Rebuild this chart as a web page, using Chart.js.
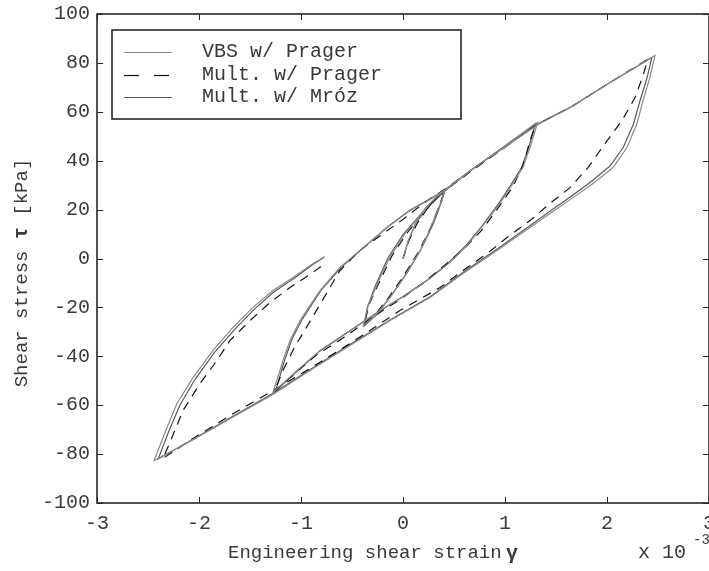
<!DOCTYPE html>
<html>
<head>
<meta charset="utf-8">
<script src="https://cdn.jsdelivr.net/npm/chart.js@4.4.0/dist/chart.umd.min.js"></script>
<style>
  html, body { margin: 0; padding: 0; background: #fff; }
  canvas { display: block; }
</style>
</head>
<body>
<canvas id="chart" width="709" height="571"></canvas>
<script>
// ─── DATOS ─────────────────────────────────────────────
// deformación en unidades de 1e-3, tensión en kPa
const xTicks = [-3, -2, -1, 0, 1, 2, 3];
const yTicks = [-100, -80, -60, -40, -20, 0, 20, 40, 60, 80, 100];
const seriesNames = ['VBS w/ Prager', 'Mult. w/ Prager', 'Mult. w/ Mróz'];

const vbsStrain = [
  0, 0.05, 0.12, 0.22, 0.32, 0.41,
  0.37, 0.28, 0.17, 0.02, -0.13, -0.27, -0.39,
  -0.34, -0.25, -0.13, 0.02, 0.17, 0.29, 0.39, 0.66, 0.95, 1.32,
  1.245, 1.176, 1.078, 0.951, 0.784, 0.627, 0.461, 0.265, 0.02, -0.225, -0.49, -0.814, -1.06, -1.275,
  -1.176, -1.108, -1.01, -0.814, -0.618, -0.422, -0.157, 0.069, 0.294, 0.49, 0.657, 0.951, 1.324, 1.637, 2.03, 2.47,
  2.42, 2.353, 2.294, 2.196, 2.059, 1.863, 1.667, 1.441, 1.245, 0.922, 0.588, 0.265, -0.127, -0.52, -0.912, -1.275, -1.696, -2.088, -2.44,
  -2.314, -2.216, -2.059, -1.863, -1.667, -1.471, -1.275, -1.078, -0.882, -0.765,
];
const vbsStress = [
  0, 7, 14, 20.5, 24.8, 27.8,
  22.9, 13.5, 3.3, -7, -16, -23.3, -27.4,
  -19.2, -10.2, 0.4, 10.2, 17.6, 23.7, 27.4, 35.8, 44.6, 55.6,
  45.4, 37.2, 30.7, 22.5, 13.5, 5.3, -1.6, -8.2, -15.1, -21.3, -28.6, -37.6, -46.6, -54.8,
  -41.7, -33.5, -25.4, -13.1, -3.7, 3.3, 12.7, 19.6, 24.9, 30.3, 36, 44.2, 54.8, 61.8, 72, 83,
  74, 64.6, 55.2, 45.4, 37.2, 30.7, 24.9, 18.4, 12.7, 3.3, -6.1, -16, -25.4, -35.6, -45.8, -55.6, -65.5, -74.8, -82.6,
  -69.1, -59.3, -48.7, -37.6, -28.2, -20, -13.1, -7.8, -2, 0.8,
];

const pragerStrain = [
  0, 0.06, 0.14, 0.24, 0.33, 0.4,
  0.36, 0.27, 0.15, 0, -0.15, -0.28, -0.38,
  -0.33, -0.23, -0.11, 0.04, 0.19, 0.3, 0.39, 0.66, 0.95, 1.3,
  1.24, 1.18, 1.08, 0.92, 0.77, 0.6, 0.4, 0.2, 0, -0.3, -0.55, -0.85, -1.06, -1.26,
  -1.18, -1.06, -0.93, -0.76, -0.62, -0.42, 0, 0.2, 0.45, 0.7, 0.95, 1.3, 1.64, 2.03, 2.4,
  2.353, 2.275, 2.147, 1.98, 1.814, 1.637, 1.441, 1.245, 1.02, 0.824, 0.588, 0.363, -0.03, -0.52, -0.912, -1.275, -1.696, -2.088, -2.353,
  -2.265, -2.157, -1.99, -1.824, -1.696, -1.5, -1.304, -1.108, -0.882, -0.794,
];
const pragerStress = [
  0, 7.5, 14.5, 20.5, 24.5, 27,
  22, 12.5, 2.5, -7.5, -16.5, -23.3, -27,
  -18.5, -9.5, 1, 10.5, 18, 23.5, 27, 35.5, 44, 54.8,
  47.5, 38.4, 29.5, 20, 11.5, 4, -3, -10, -16, -24, -31.5, -39.5, -47, -54.5,
  -46, -36, -27, -15, -5, 3.5, 16, 22.5, 29.5, 37, 44, 54.5, 61.8, 72, 81.5,
  74.8, 65.8, 56.4, 47, 37.2, 29, 22.5, 15.5, 8.6, 2, -4.9, -11.9, -21.3, -34.8, -45, -54, -64.2, -74.4, -81.8,
  -73.2, -62.2, -51.1, -41.7, -33.5, -25.4, -18, -11.9, -5.7, -2.9,
];

const mrozStrain = [
  0, 0.05, 0.12, 0.22, 0.32, 0.41,
  0.38, 0.3, 0.18, 0.03, -0.12, -0.26, -0.38,
  -0.35, -0.27, -0.15, 0, 0.16, 0.29, 0.41, 0.66, 0.95, 1.3,
  1.23, 1.16, 1.06, 0.93, 0.77, 0.61, 0.44, 0.25, 0, -0.24, -0.5, -0.82, -1.06, -1.25,
  -1.16, -1.09, -0.99, -0.8, -0.6, -0.41, -0.15, 0.07, 0.3, 0.49, 0.66, 0.95, 1.3, 1.64, 2.03, 2.44,
  2.39, 2.32, 2.26, 2.16, 2.03, 1.84, 1.65, 1.43, 1.24, 0.92, 0.59, 0.27, -0.12, -0.52, -0.91, -1.26, -1.69, -2.08, -2.4,
  -2.29, -2.19, -2.04, -1.85, -1.65, -1.46, -1.27, -1.07, -0.88, -0.78,
];
const mrozStress = [
  0, 7, 14, 20.5, 24.8, 27.6,
  23.5, 14.5, 4, -6.5, -15.5, -23, -27.6,
  -20, -11, 0, 9.8, 17.4, 23.5, 27.6, 36, 44.6, 55.2,
  45, 37, 30.2, 22, 13, 5, -2, -8.5, -15.5, -21.8, -29, -38, -47, -54.2,
  -41.5, -33, -25, -12.8, -3.4, 3.6, 13, 19.8, 25.2, 30.5, 36, 44.4, 54.6, 61.8, 72, 82.2,
  73.5, 64, 55, 45.5, 37.8, 31.3, 25.5, 19, 13.3, 3.8, -5.6, -15.5, -25, -35.2, -45.4, -54.8, -65, -74.4, -82,
  -70, -60.2, -49.5, -38.5, -29, -20.8, -13.8, -8.2, -2.4, 0.3,
];

// ─── ESTILO ────────────────────────────────────────────
const FONT      = "'Liberation Mono', 'DejaVu Sans Mono', monospace";
const TEXT      = '#3a3a3a';
const AXIS      = '#262626';
const TICK_LEN  = 6;

const toPoints = (xs, ys) => xs.map((v, i) => ({ x: v, y: ys[i] }));

const SERIES = [
  { label: seriesNames[0], data: toPoints(vbsStrain, vbsStress),       color: '#8a8a8a', dash: [],     legendDash: [] },
  { label: seriesNames[1], data: toPoints(pragerStrain, pragerStress), color: '#111111', dash: [9, 7], legendDash: [15, 15] },
  { label: seriesNames[2], data: toPoints(mrozStrain, mrozStress),     color: '#5a5a5a', dash: [],     legendDash: [] },
];

// Marco, ticks interiores, títulos y leyenda
const framePlugin = {
  id: 'frame',
  afterDatasetsDraw(chart) {
    const { ctx, chartArea: a, scales: { x, y } } = chart;
    ctx.save();

    ctx.strokeStyle = AXIS;
    ctx.lineWidth = 1;
    ctx.beginPath();
    xTicks.forEach(v => {
      const px = Math.round(x.getPixelForValue(v)) + 0.5;
      ctx.moveTo(px, a.bottom); ctx.lineTo(px, a.bottom - TICK_LEN);
      ctx.moveTo(px, a.top);    ctx.lineTo(px, a.top + TICK_LEN);
    });
    yTicks.forEach(v => {
      const py = Math.round(y.getPixelForValue(v)) + 0.5;
      ctx.moveTo(a.left, py);  ctx.lineTo(a.left + TICK_LEN, py);
      ctx.moveTo(a.right, py); ctx.lineTo(a.right - TICK_LEN, py);
    });
    ctx.stroke();

    ctx.lineWidth = 1.6;
    ctx.strokeRect(a.left, a.top, a.right - a.left, a.bottom - a.top);

    // leyenda
    const L = { x: 112, y: 30, w: 349, h: 89 };
    ctx.fillStyle = '#fff';
    ctx.fillRect(L.x, L.y, L.w, L.h);
    ctx.lineWidth = 1.6;
    ctx.strokeStyle = AXIS;
    ctx.strokeRect(L.x, L.y, L.w, L.h);
    const rows = [52, 75, 97];
    ctx.font = `20px ${FONT}`;
    ctx.textBaseline = 'middle';
    ctx.textAlign = 'left';
    SERIES.forEach((s, i) => {
      ctx.beginPath();
      ctx.strokeStyle = s.color;
      ctx.lineWidth = 1.2;
      ctx.setLineDash(s.legendDash);
      ctx.moveTo(124, rows[i] + 0.5);
      ctx.lineTo(172, rows[i] + 0.5);
      ctx.stroke();
      ctx.setLineDash([]);
      ctx.fillStyle = TEXT;
      ctx.fillText(s.label, 202, rows[i]);
    });

    // títulos de ejes
    ctx.fillStyle = TEXT;
    ctx.font = `19px ${FONT}`;
    ctx.textBaseline = 'middle';
    ctx.textAlign = 'left';
    ctx.fillText('Engineering shear strain', 228, 553);
    ctx.font = `bold 20px ${FONT}`;
    ctx.fillText('γ', 506, 554);
    ctx.font = `20px ${FONT}`;
    ctx.fillText('x 10', 638, 553);
    ctx.font = `14px ${FONT}`;
    ctx.fillText('-3', 693, 540);

    ctx.save();
    ctx.translate(22, 273);
    ctx.rotate(-Math.PI / 2);
    const parts = ['Shear stress ', 'τ', ' [kPa]'];
    const fonts = [`19px ${FONT}`, `bold 20px ${FONT}`, `19px ${FONT}`];
    let total = 0;
    const widths = parts.map((p, i) => { ctx.font = fonts[i]; const w = ctx.measureText(p).width; total += w; return w; });
    let cx = -total / 2;
    ctx.textAlign = 'left';
    parts.forEach((p, i) => {
      ctx.font = fonts[i];
      ctx.fillText(p, cx, 0);
      cx += widths[i];
    });
    ctx.restore();

    ctx.restore();
  },
};

new Chart(document.getElementById('chart'), {
  type: 'scatter',
  data: {
    datasets: SERIES.map(s => ({
      label: s.label,
      data: s.data,
      showLine: true,
      borderColor: s.color,
      borderWidth: 1.2,
      borderDash: s.dash,
      pointRadius: 0,
      tension: 0,
      fill: false,
    })),
  },
  options: {
    responsive: false,
    animation: false,
    layout: { padding: { top: 14, right: 0, bottom: 0, left: 0 } },
    plugins: { legend: { display: false }, tooltip: { enabled: false } },
    scales: {
      x: {
        type: 'linear',
        min: -3, max: 3,
        grid: { display: false, drawTicks: false },
        border: { display: false },
        ticks: { stepSize: 1, color: TEXT, padding: 9, maxRotation: 0, font: { family: FONT, size: 20 } },
        afterFit: s => { s.height = 68; s.paddingLeft = 0; s.paddingRight = 0; },
      },
      y: {
        type: 'linear',
        min: -100, max: 100,
        grid: { display: false, drawTicks: false },
        border: { display: false },
        ticks: { stepSize: 20, color: TEXT, padding: 7, font: { family: FONT, size: 20 } },
        afterFit: s => { s.width = 97; s.paddingTop = 0; s.paddingBottom = 0; },
      },
    },
  },
  plugins: [framePlugin],
});
</script>
</body>
</html>
